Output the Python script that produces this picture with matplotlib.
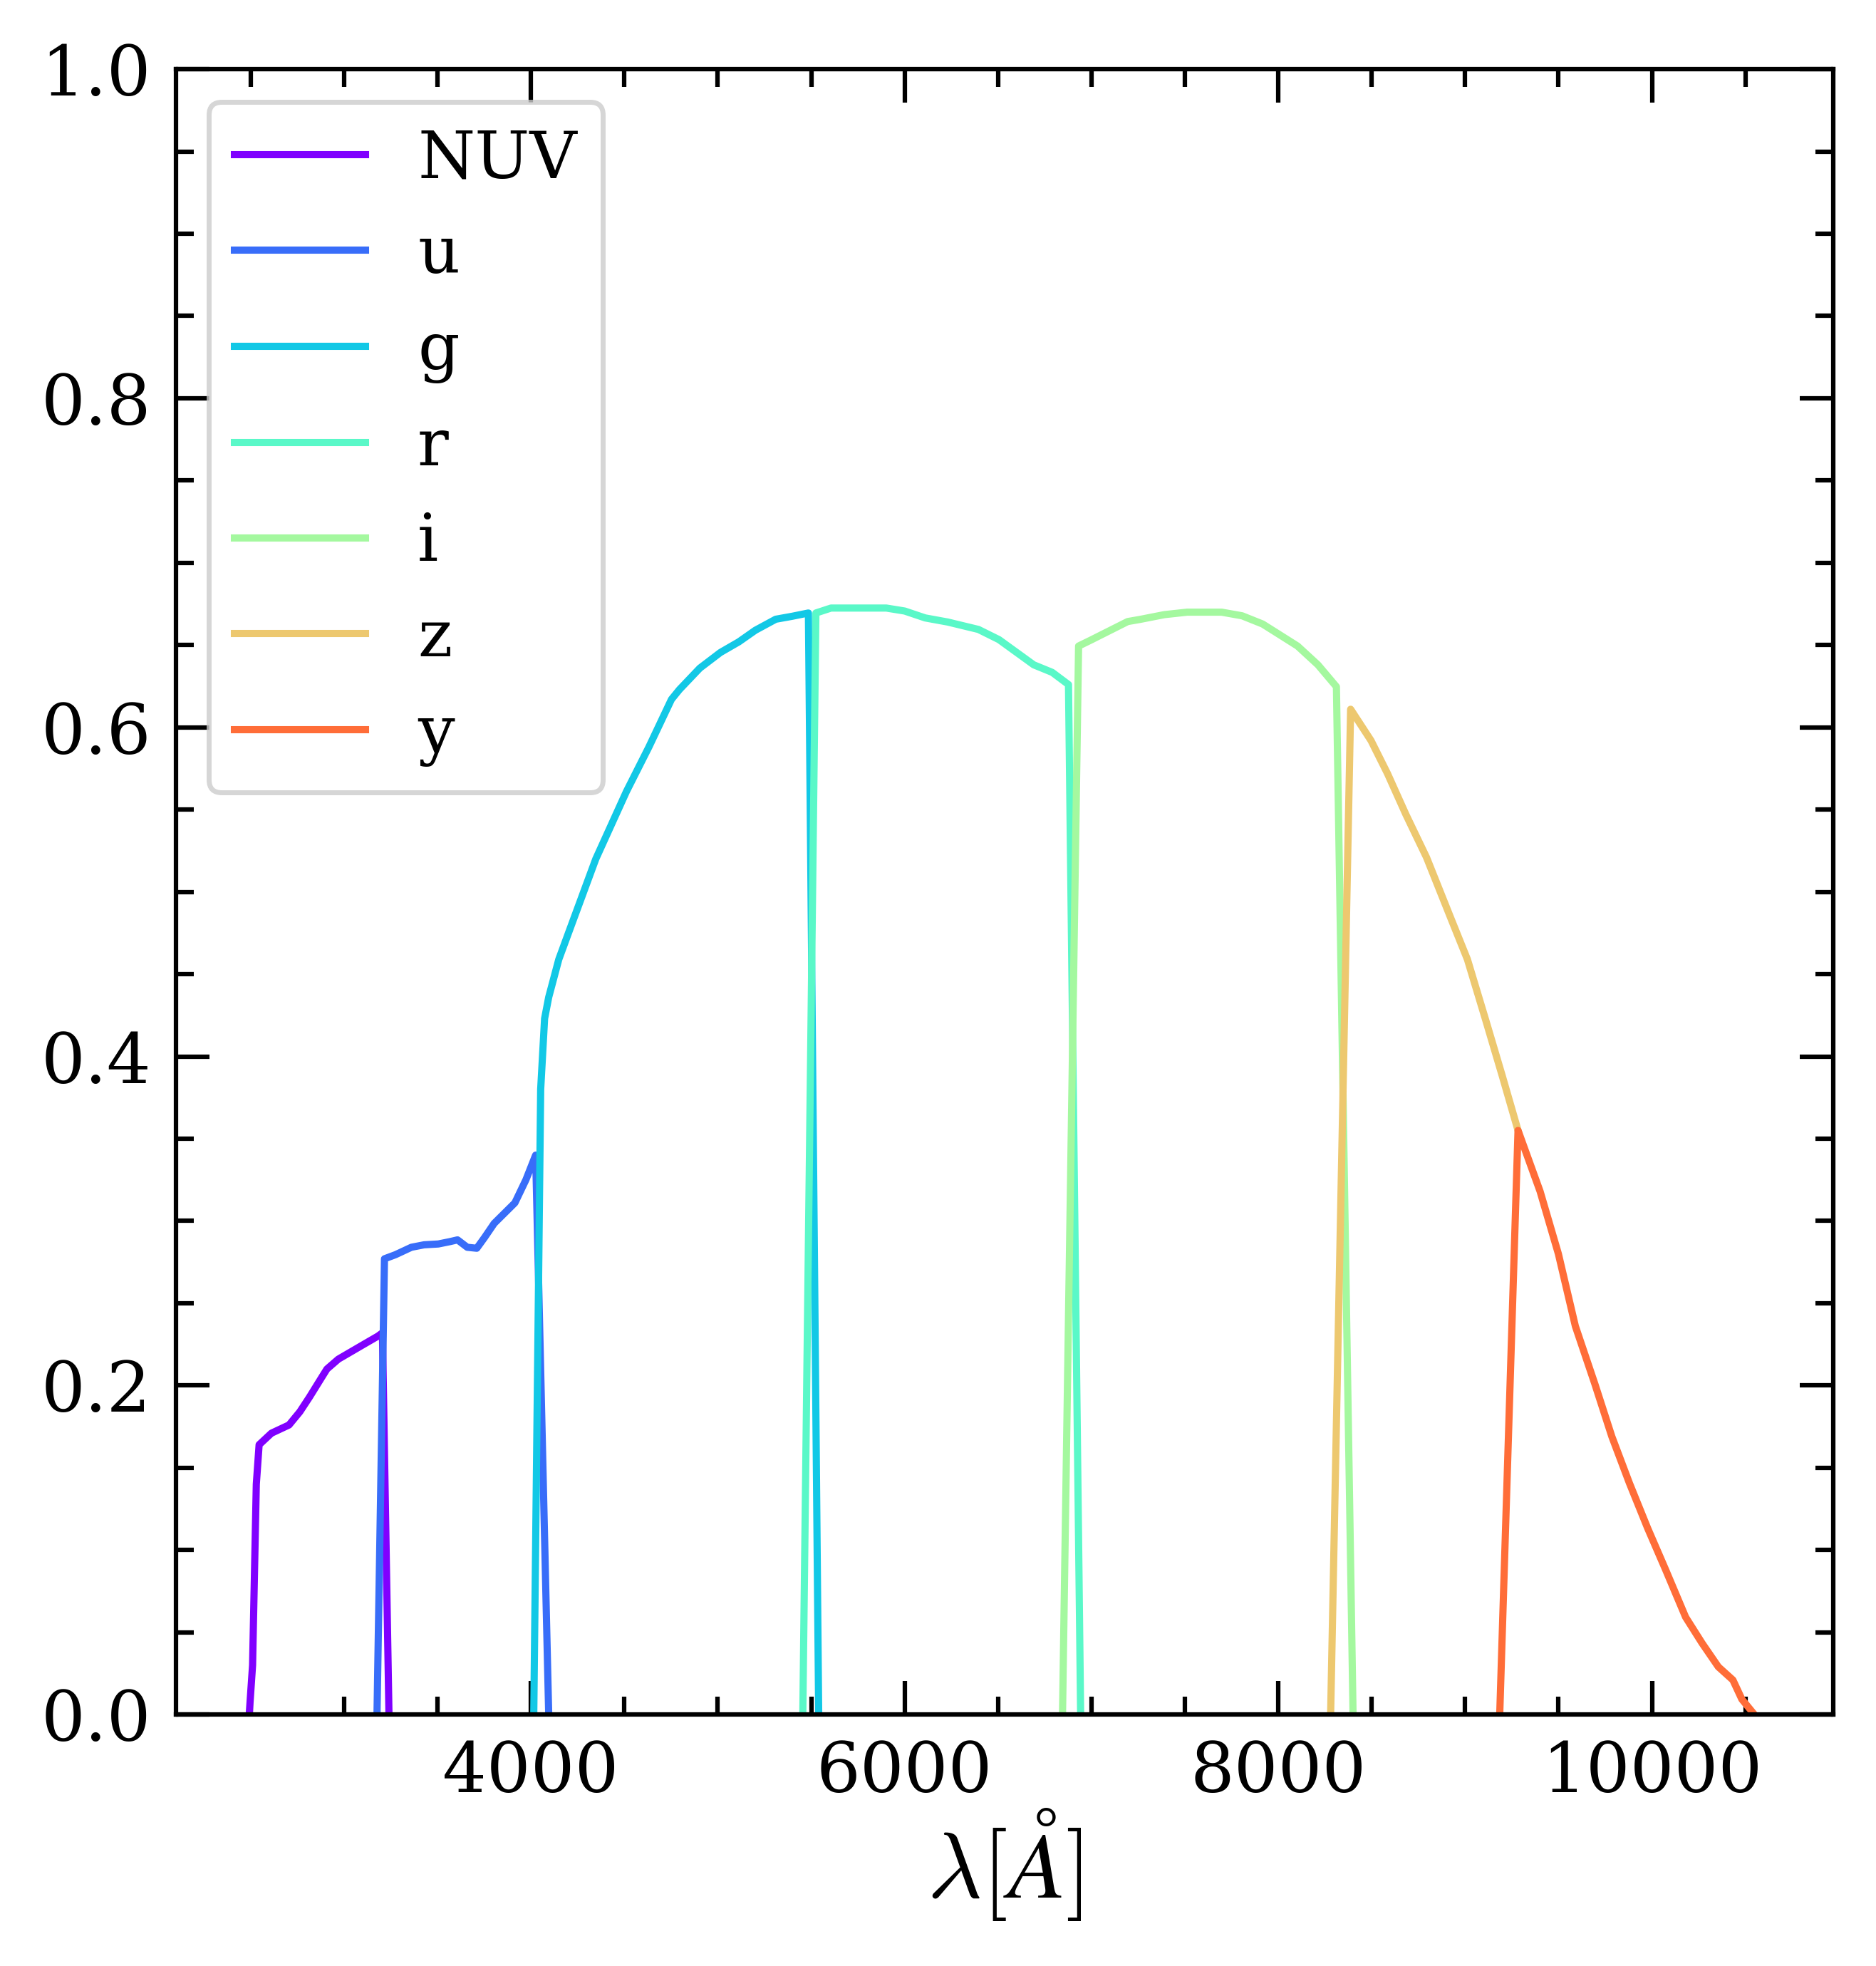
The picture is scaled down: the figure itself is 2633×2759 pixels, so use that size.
import numpy as np
import matplotlib
matplotlib.use("Agg")
import matplotlib.pyplot as plt
from matplotlib.ticker import AutoMinorLocator, MultipleLocator

plt.rcParams['font.family'] = ['DejaVu Serif']
plt.rcParams['mathtext.fontset'] = 'cm'

# throughput curves (wavelength in Angstrom)
bands = ['NUV', 'u', 'g', 'r', 'i', 'z', 'y']

nuv_wl = [2492, 2510, 2530, 2545, 2611, 2705, 2763, 2815, 2875, 2908, 2969, 3105, 3181, 3205, 3240]
nuv_tr = [0.0, 0.03, 0.14, 0.164, 0.171, 0.176, 0.184, 0.193, 0.204, 0.210, 0.216, 0.225, 0.230, 0.232, 0.0]

u_wl = [3176, 3216, 3275, 3360, 3428, 3504, 3565, 3607, 3659, 3710, 3752, 3803, 3914, 3973, 4025, 4095]
u_tr = [0.0, 0.277, 0.2795, 0.284, 0.2855, 0.286, 0.2874, 0.2885, 0.284, 0.2834, 0.290, 0.2985, 0.311, 0.325, 0.340, 0.0]

g_wl = [4015, 4052, 4073, 4095, 4149, 4204, 4347, 4511, 4631, 4752, 4795, 4904, 5014, 5113, 5201, 5310, 5398, 5485, 5540]
g_tr = [0.0, 0.38, 0.423, 0.436, 0.459, 0.476, 0.520, 0.561, 0.588, 0.617, 0.623, 0.636, 0.6455, 0.652, 0.659, 0.6657, 0.6675, 0.6695, 0.0]

r_wl = [5455, 5525, 5606, 5902, 6000, 6110, 6231, 6395, 6505, 6691, 6790, 6877, 6942]
r_tr = [0.0, 0.6695, 0.6725, 0.6725, 0.6707, 0.6665, 0.664, 0.6595, 0.6533, 0.638, 0.6334, 0.626, 0.0]

i_wl = [6845, 6931, 6996, 7194, 7260, 7390, 7512, 7697, 7806, 7916, 8103, 8212, 8311, 8400]
i_tr = [0.0, 0.6494, 0.653, 0.6643, 0.6656, 0.6685, 0.670, 0.670, 0.6678, 0.6628, 0.6494, 0.638, 0.6247, 0.0]

z_wl = [8280, 8387, 8496, 8584, 8683, 8793, 8924, 9012, 9111, 9199, 9283]
z_tr = [0.0, 0.611, 0.592, 0.572, 0.547, 0.521, 0.4838, 0.459, 0.4217, 0.388, 0.355]

y_wl = [9185, 9283, 9401, 9499, 9590, 9694, 9785, 9879, 9977, 10073, 10180, 10268, 10355, 10433, 10481, 10548]
y_tr = [0.0, 0.355, 0.318, 0.280, 0.236, 0.201, 0.169, 0.1407, 0.1132, 0.088, 0.0592, 0.0434, 0.029, 0.021, 0.0093, 0.0]

wls = [nuv_wl, u_wl, g_wl, r_wl, i_wl, z_wl, y_wl]
trs = [nuv_tr, u_tr, g_tr, r_tr, i_tr, z_tr, y_tr]

colors = plt.cm.rainbow(np.arange(len(bands)) / len(bands))

fig = plt.figure(figsize=(2633 / 500, 2759 / 500), dpi=500)
ax = fig.add_axes([0.0938, 0.1279, 0.8834, 0.8369])

for name, wl, tr, c in zip(bands, wls, trs, colors):
    ax.plot(wl, tr, color=c, lw=1.45, label=name)

ax.set_xlim(2100, 10970)
ax.set_ylim(0, 1)
ax.xaxis.set_major_locator(MultipleLocator(2000))
ax.xaxis.set_minor_locator(AutoMinorLocator(4))
ax.yaxis.set_minor_locator(AutoMinorLocator(4))
ax.tick_params(which='both', direction='in', top=True, right=True, labelsize=14, pad=5)
ax.tick_params(which='major', length=6.8, width=0.9)
ax.tick_params(which='minor', length=3.6, width=0.9)
for s in ax.spines.values():
    s.set_linewidth(0.9)

ax.set_xlabel(r'$\lambda [\AA]$', fontsize=19, labelpad=0)
ax.legend(loc='upper left', fontsize=13.2, frameon=True)

fig.savefig('out.png', dpi=500)
